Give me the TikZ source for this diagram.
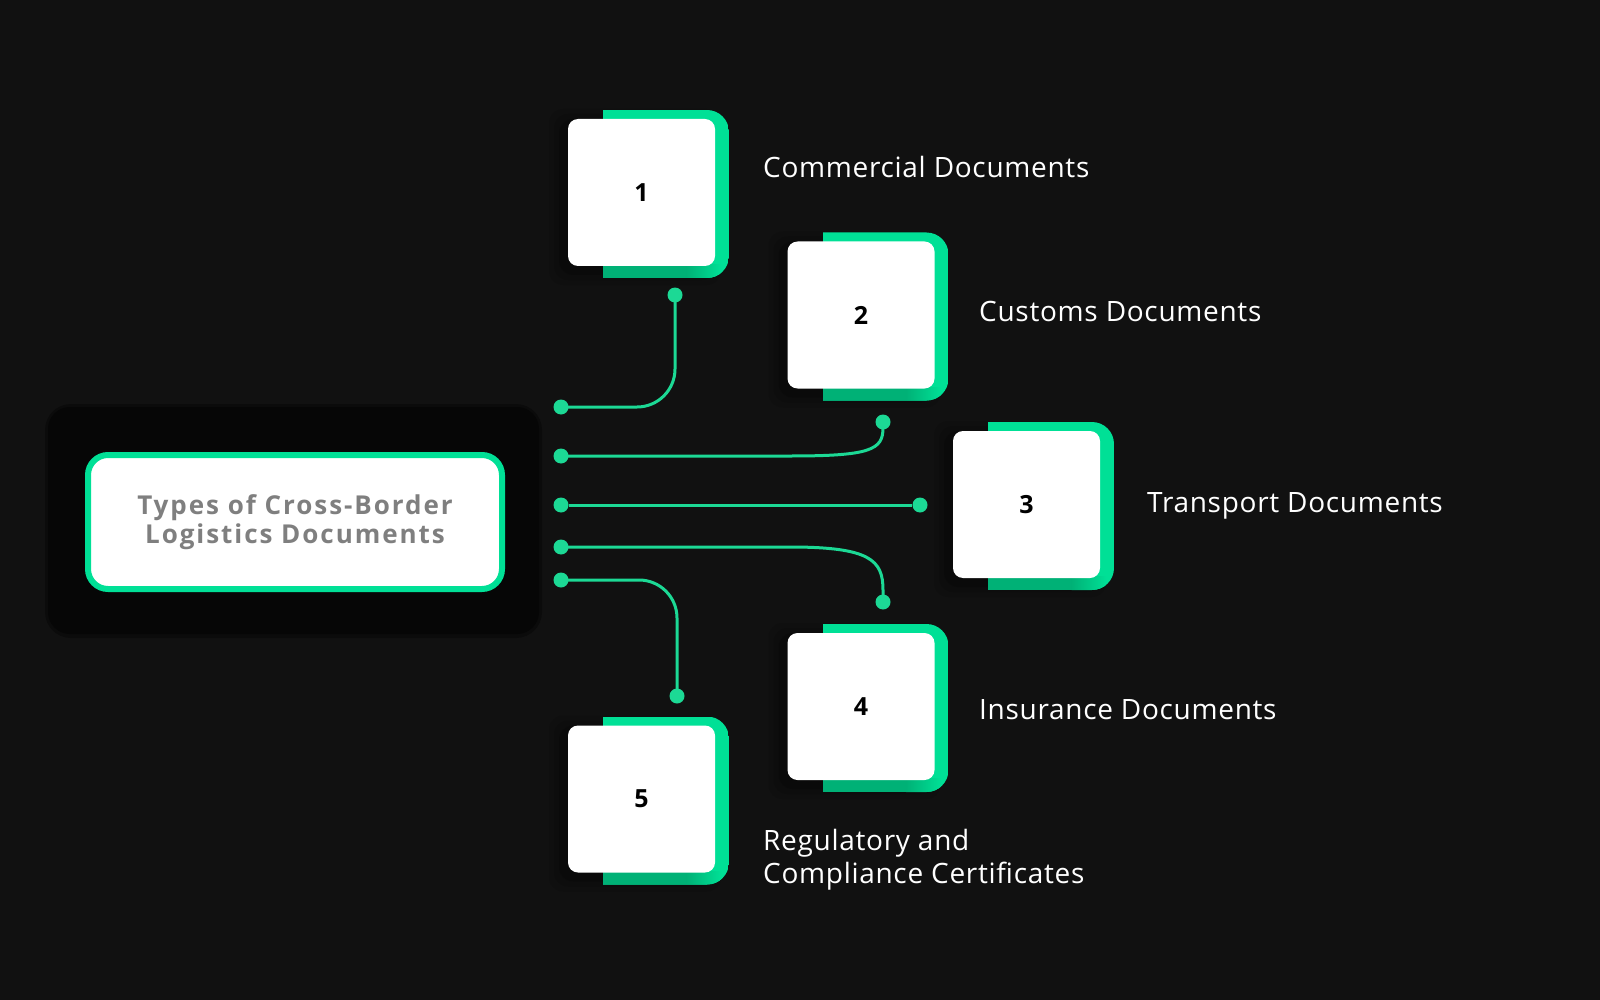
\documentclass[tikz,border=0pt]{standalone}
\usepackage{fontspec}
\setmainfont{Open Sans}[LetterSpace=2.5]
\newfontfamily\titlefont[LetterSpace=7.5]{Open Sans}
\newfontfamily\numfont{Open Sans}
\definecolor{bg}{HTML}{111111}
\definecolor{gmain}{HTML}{00E096}
\definecolor{gdark}{HTML}{00B176}
\definecolor{wire}{HTML}{1CD995}
\definecolor{panel}{HTML}{060606}
\definecolor{titlegray}{HTML}{7F7F7F}
\tikzset{
  mainbox/.style={draw=gmain, line width=6pt, fill=white, rounded corners=20pt,
    minimum width=414pt, minimum height=134pt, inner sep=0pt, align=center,
    text=titlegray, font=\titlefont\bfseries\fontsize{26}{29.5}\selectfont},
  cardbox/.style={fill=white, rounded corners=10pt, minimum size=147pt, inner sep=0pt,
    font=\numfont\bfseries\fontsize{25}{30}\selectfont, text=black},
  dot/.style={circle, fill=wire, minimum size=15pt, inner sep=0pt},
  wireline/.style={draw=wire, line width=3pt},
  doclabel/.style={text=white, inner sep=0pt, align=left, font=\fontsize{28}{33}\selectfont},
}
\newcommand\docard[4]{%
  \foreach \s/\o in {16/0.10, 11/0.12, 6/0.16}{%
    \fill[black, opacity=\o, rounded corners=14pt] ({#2-73.5-\s-3},{#3-73.5-\s+6}) rectangle ({#2+73.5+\s-10},{#3+73.5+\s+3});
  }
  \begin{scope}
    \clip[rounded corners=22pt] ({#2-38.5},{#3-82.5}) rectangle ({#2+87.5},{#3+85.5})
      [sharp corners] ({#2-38.5},{#3-82.5}) rectangle ({#2+10},{#3+85.5});
    \fill[gmain] ({#2-38.5},{#3-82.5}) rectangle ({#2+87.5},{#3+85.5});
    \fill[gdark] ({#2-38.5},{#3+72}) rectangle ({#2+45},{#3+85.5});
    \shade[left color=gdark, right color=gmain] ({#2+45},{#3+72}) rectangle ({#2+80},{#3+85.5});
  \end{scope}
  \node[cardbox] (#1) at (#2,#3) {#4};
}
\begin{document}
\begin{tikzpicture}[x=1pt,y=-1pt]
\useasboundingbox[fill=bg] (0,0) rectangle (1600,1000);
% panel behind main box
\fill[panel, opacity=0.5, rounded corners=26pt] (45,404) rectangle (542,638);
\fill[panel, rounded corners=22pt] (48,407) rectangle (539,634);
\node[mainbox] (main) at (295,522) {Types of Cross-Border\\Logistics Documents};

% cards
\docard{c1}{641.5}{192.5}{1}
\docard{c2}{861}{315}{2}
\docard{c3}{1026.5}{504.5}{3}
\docard{c4}{861}{706.5}{4}
\docard{c5}{641.5}{799}{5}

% labels
\node[doclabel, anchor=base west] (t1) at (763,178) {Commercial Documents};
\node[doclabel, anchor=base west] (t2) at (979,321) {Customs Documents};
\node[doclabel, anchor=base west] (t3) at (1147,512) {Transport Documents};
\node[doclabel, anchor=base west] (t4) at (979,719) {Insurance Documents};
\node[doclabel, anchor=west] (t5) at (763,860) {Regulatory and\\Compliance Certificates};

% dots
\node[dot] (a1) at (561,407) {};
\node[dot] (a2) at (561,456) {};
\node[dot] (a3) at (561,505) {};
\node[dot] (a4) at (561,547) {};
\node[dot] (a5) at (561,580) {};
\node[dot] (b1) at (675,295) {};
\node[dot] (b2) at (883,422) {};
\node[dot] (b3) at (920,505) {};
\node[dot] (b4) at (883,602) {};
\node[dot] (b5) at (677,696) {};

% connectors
\draw[wireline, rounded corners=38pt] (a1.center) -| (b1.center);
\draw[wireline] (a2.center) -- (790,456) .. controls (870,456) and (883,450) .. (883,428) -- (b2.center);
\draw[wireline] (a3) -- (b3);
\draw[wireline] (a4.center) -- (790,547) .. controls (870,547) and (883,560) .. (883,590) -- (b4.center);
\draw[wireline, rounded corners=38pt] (a5.center) -| (b5.center);
\end{tikzpicture}
\end{document}
